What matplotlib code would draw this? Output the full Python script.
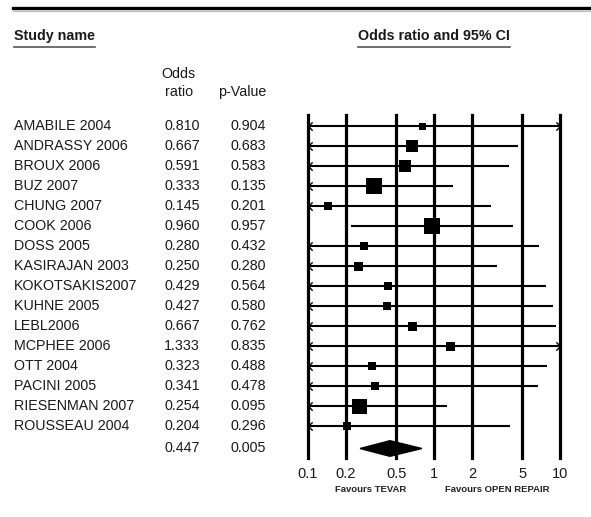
import numpy as np
import matplotlib.pyplot as plt
from matplotlib.lines import Line2D
from matplotlib.ticker import NullLocator

plt.rcParams['font.family'] = ['Liberation Sans', 'DejaVu Sans']

# data
studies = ['AMABILE 2004', 'ANDRASSY 2006', 'BROUX 2006', 'BUZ 2007', 'CHUNG 2007',
           'COOK 2006', 'DOSS 2005', 'KASIRAJAN 2003', 'KOKOTSAKIS2007', 'KUHNE 2005',
           'LEBL2006', 'MCPHEE 2006', 'OTT 2004', 'PACINI 2005', 'RIESENMAN 2007',
           'ROUSSEAU 2004']
odds_ratio = [0.810, 0.667, 0.591, 0.333, 0.145, 0.960, 0.280, 0.250, 0.429, 0.427,
              0.667, 1.333, 0.323, 0.341, 0.254, 0.204]
p_values = ['0.904', '0.683', '0.583', '0.135', '0.201', '0.957', '0.432', '0.280',
            '0.564', '0.580', '0.762', '0.835', '0.488', '0.478', '0.095', '0.296']
ci_low = [0.03, 0.095, 0.089, 0.078, 0.008, 0.22, 0.012, 0.02, 0.024, 0.021,
          0.048, 0.08, 0.013, 0.017, 0.051, 0.010]
ci_high = [20.0, 4.67, 3.92, 1.42, 2.82, 4.25, 6.77, 3.15, 7.7, 8.75,
           9.25, 22.0, 7.84, 6.73, 1.26, 4.01]
weights = [7, 12, 12, 16, 8, 16, 8, 9, 8, 8, 9, 9, 8, 8, 15, 8]  # box size, px

pooled_or = 0.447
pooled_p = '0.005'
pooled_low = 0.259
pooled_high = 0.80

tick_values = [0.1, 0.2, 0.5, 1, 2, 5, 10]
tick_labels = ['0.1', '0.2', '0.5', '1', '2', '5', '10']

W, H = 591, 517
fig = plt.figure(figsize=(W / 100, H / 100), dpi=100)


def fx(px):
    return px / W


def fy(py):
    return 1 - py / H


FS = 10.3
TXT = '#1a1a1a'

# linea superiore
fig.add_artist(Line2D([fx(13), 1], [fy(7.5), fy(7.5)], color='black', lw=2.4))
fig.add_artist(Line2D([fx(13), 1], [fy(10.5), fy(10.5)], color='#bbbbbb', lw=0.8))

# intestazioni
t1 = fig.text(fx(14), fy(36), 'Study name', fontsize=FS, fontweight='bold',
              va='center', ha='left', color=TXT)
t2 = fig.text(fx(434), fy(36), 'Odds ratio and 95% CI', fontsize=FS,
              fontweight='bold', va='center', ha='center', color=TXT)
fig.text(fx(178), fy(74), 'Odds', fontsize=FS, va='center', ha='center', color=TXT)
fig.text(fx(179), fy(92), 'ratio', fontsize=FS, va='center', ha='center', color=TXT)
fig.text(fx(266), fy(92), 'p-Value', fontsize=FS, va='center', ha='right', color=TXT)

# righe della tabella
row_px = 126.5
step = 20
for i, name in enumerate(studies):
    y = fy(row_px + step * i)
    fig.text(fx(14), y, name, fontsize=FS, va='center', ha='left', color=TXT)
    fig.text(fx(200), y, f'{odds_ratio[i]:.3f}', fontsize=FS, va='center',
             ha='right', color=TXT)
    fig.text(fx(266), y, p_values[i], fontsize=FS, va='center', ha='right', color=TXT)
y_sum = fy(448.5)
fig.text(fx(200), y_sum, f'{pooled_or:.3f}', fontsize=FS, va='center', ha='right',
         color=TXT)
fig.text(fx(266), y_sum, pooled_p, fontsize=FS, va='center', ha='right', color=TXT)

# pannello del forest plot
top, bottom = 115, 458
ax = fig.add_axes([fx(308), fy(bottom), (560 - 308) / W, (bottom - top) / H])
ax.set_xscale('log')
ax.set_xlim(tick_values[0], tick_values[-1])
ax.set_ylim((bottom - 125.5) / step, (top - 125.5) / step)
for s in ax.spines.values():
    s.set_visible(False)
ax.set_yticks([])
ax.set_xticks(tick_values)
ax.set_xticklabels(tick_labels, fontsize=10.5, color=TXT)
ax.xaxis.set_minor_locator(NullLocator())
ax.tick_params(axis='x', length=0, pad=6.5)

for v in tick_values:
    ax.axvline(v, color='black', lw=2.3, clip_on=False, zorder=1)

left_arrow = [(1, 1), (0, 0), (1, -1)]
right_arrow = [(-1, 1), (0, 0), (-1, -1)]
xmin, xmax = tick_values[0], tick_values[-1]
for i in range(len(studies)):
    lo = max(ci_low[i], xmin)
    hi = min(ci_high[i], xmax)
    ax.hlines(i, lo, hi, color='black', lw=1.5, clip_on=False, zorder=2)
    if ci_low[i] < xmin:
        ax.plot(xmin, i, marker=left_arrow, ms=6, mfc='none', mec='black', mew=1.0,
                clip_on=False, zorder=3)
    if ci_high[i] > xmax:
        ax.plot(xmax, i, marker=right_arrow, ms=6, mfc='none', mec='black', mew=1.0,
                clip_on=False, zorder=3)
    ax.plot(odds_ratio[i], i, marker='s', ms=weights[i] * 0.72, color='black',
            mew=0, zorder=4)

# diamante riassuntivo
ys = len(studies) + 0.15
h = 0.39
ax.fill([pooled_low, pooled_or, pooled_high, pooled_or], [ys, ys - h, ys, ys + h],
        color='black', zorder=4, clip_on=False)

trans = ax.get_xaxis_transform()
fav_y = (bottom - 490) / (bottom - top)
ax.text(10 ** -0.5, fav_y, 'Favours TEVAR', fontsize=6.8, fontweight='bold',
        ha='center', va='center', transform=trans, color='#222222')
ax.text(10 ** 0.5, fav_y, 'Favours OPEN REPAIR', fontsize=6.8, fontweight='bold',
        ha='center', va='center', transform=trans, color='#222222')

# sottolineature delle intestazioni
fig.canvas.draw()
for t in (t1, t2):
    bb = t.get_window_extent()
    fig.add_artist(Line2D([bb.x0 / W, bb.x1 / W], [fy(47), fy(47)],
                          color='#555555', lw=1.2))

fig.savefig('out.png', dpi=100)
